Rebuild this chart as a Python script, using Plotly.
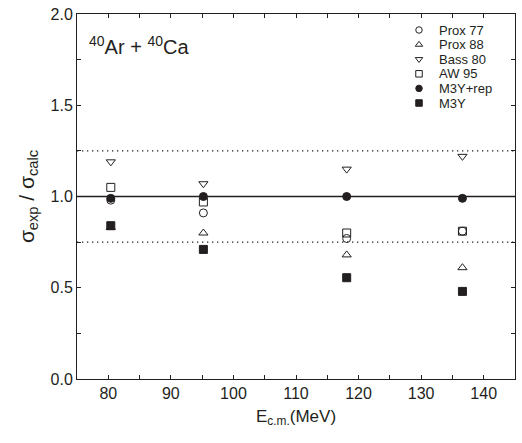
import plotly.graph_objects as go

# ---- data ----
energy = [80.4, 95.2, 118.1, 136.6]
series_names = ["Prox 77", "Prox 88", "Bass 80", "AW 95", "M3Y+rep", "M3Y"]
prox77 = [0.98, 0.91, 0.77, 0.81]
prox88 = [0.83, 0.80, 0.68, 0.61]
bass80 = [1.19, 1.07, 1.15, 1.22]
aw95 = [1.05, 0.97, 0.80, 0.81]
m3yrep = [0.99, 1.00, 1.00, 0.99]
m3y = [0.84, 0.71, 0.555, 0.48]
ref_lines = [0.75, 1.0, 1.25]
x_ticks = [80, 90, 100, 110, 120, 130, 140]
y_ticks = [0.0, 0.5, 1.0, 1.5, 2.0]

series_values = [prox77, prox88, bass80, aw95, m3yrep, m3y]
symbols = ["circle-open", "triangle-up-open", "triangle-down-open",
           "square-open", "circle", "square"]

INK = "#231f20"
FONT = "Liberation Sans, Arial, sans-serif"

fig = go.Figure()

# reference lines
xr = [75, 145]
for v in ref_lines:
    fig.add_trace(go.Scatter(
        x=xr, y=[v, v], mode="lines", showlegend=False, hoverinfo="skip",
        line=dict(color=INK, width=1.3,
                  dash="solid" if v == 1.0 else "1.3px,3.7px")))

for name, vals, sym in zip(series_names, series_values, symbols):
    fig.add_trace(go.Scatter(
        x=energy, y=vals, mode="markers", name=name, showlegend=False,
        marker=dict(symbol=sym, size=8, color=INK,
                    line=dict(color=INK, width=1))))

# custom compact legend on overlay pixel axes
leg_x = 342
leg_y0 = 349
leg_dy = 14.6
for i, (name, sym) in enumerate(zip(series_names, symbols)):
    y = leg_y0 - i * leg_dy
    fig.add_trace(go.Scatter(
        x=[leg_x], y=[y], mode="markers", xaxis="x2", yaxis="y2",
        showlegend=False, hoverinfo="skip",
        marker=dict(symbol=sym, size=6.5, color=INK,
                    line=dict(color=INK, width=1))))
    fig.add_annotation(x=leg_x + 19, y=y, xref="x2", yref="y2", text=name,
                       showarrow=False, xanchor="left", yanchor="middle",
                       borderpad=0,
                       font=dict(family=FONT, size=13, color=INK))

fig.add_annotation(x=10, y=334, xref="x2", yref="y2",
                   text="<sup>40</sup>Ar + <sup>40</sup>Ca",
                   showarrow=False, xanchor="left", yanchor="middle",
                   font=dict(family=FONT, size=20, color=INK))

axis_common = dict(
    showline=True, linecolor=INK, linewidth=1, mirror="ticks",
    ticks="inside", ticklen=4, tickwidth=1, tickcolor=INK,
    showgrid=False, zeroline=False,
    tickfont=dict(family=FONT, size=16, color=INK),
)

fig.update_layout(
    width=522, height=443,
    margin=dict(l=77, r=7, t=14, b=64),
    plot_bgcolor="white", paper_bgcolor="white",
    font=dict(family=FONT, color=INK),
    xaxis=dict(range=[75, 145], tickvals=x_ticks,
               minor=dict(dtick=5, ticks="inside", ticklen=4, tickcolor=INK, showgrid=False),
               title=dict(text="E<sub>c.m.</sub>(MeV)", font=dict(family=FONT, size=17, color=INK), standoff=8),
               **axis_common),
    yaxis=dict(range=[0, 2.0], tickvals=y_ticks, tickformat=".1f",
               minor=dict(dtick=0.25, ticks="inside", ticklen=4, tickcolor=INK, showgrid=False),
               title=dict(text="σ<sub>exp</sub> / σ<sub>calc</sub>", font=dict(family=FONT, size=21, color=INK), standoff=10),
               **axis_common),
    xaxis2=dict(range=[0, 438], overlaying="x", visible=False, fixedrange=True),
    yaxis2=dict(range=[0, 365], overlaying="y", visible=False, fixedrange=True, anchor="x2"),
)

fig.write_html("out.html", config={"displayModeBar": False},
               post_script="document.body.style.margin='0';document.body.style.overflow='hidden';")
